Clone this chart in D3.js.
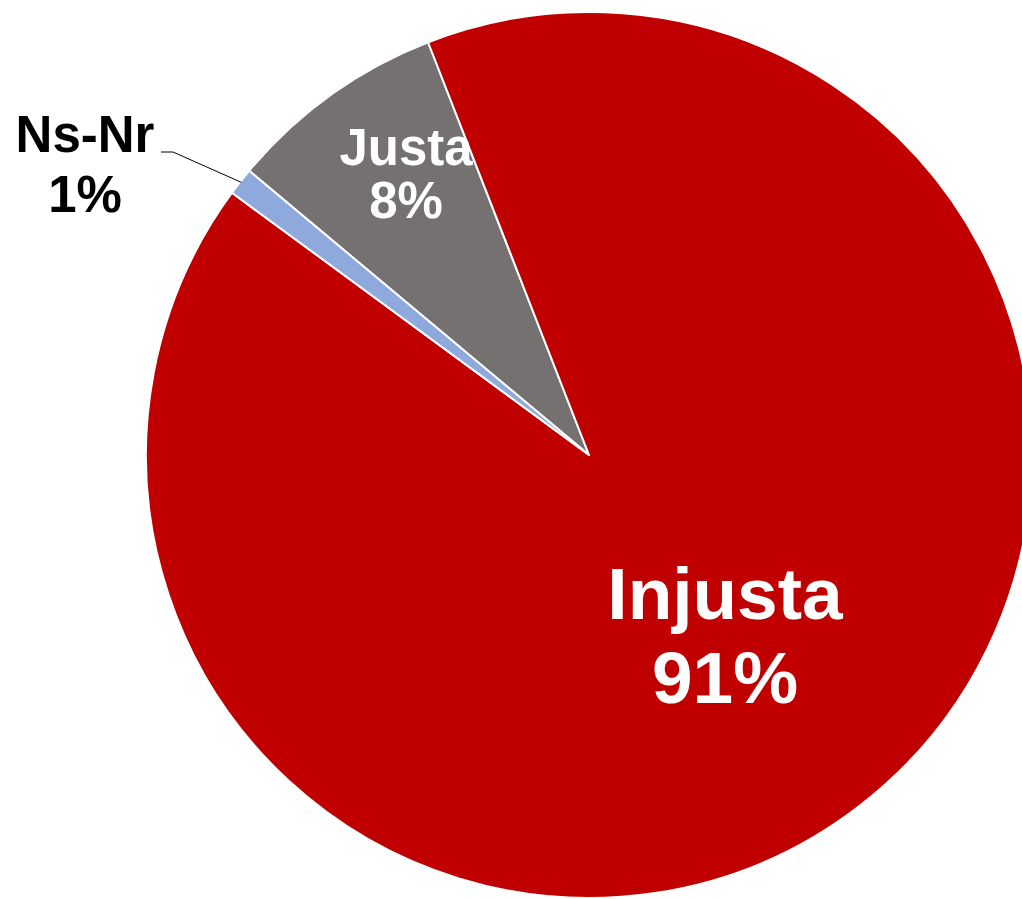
<!DOCTYPE html>
<html>
<head>
<meta charset="utf-8">
<script src="https://cdn.jsdelivr.net/npm/d3@7"></script>
<style>
  html, body { margin: 0; padding: 0; background: #fff; overflow: hidden; }
  svg { display: block; }
</style>
</head>
<body>
<div id="painting"></div>
<script>
// pie data, clockwise order starting from the Justa slice
var categories = ["Justa", "Injusta", "Ns-Nr"];
var values = [8, 91, 1];
var pctLabels = ["8%", "91%", "1%"];
var colours = ["#767171", "#C00000", "#8EA9DB"];

var w = 1022, h = 899;
var cx = 589, cy = 455, r = 443;
var start = -50.1 * Math.PI / 180;

var svg = d3.select("#painting")
  .append("svg")
  .attr("width", w)
  .attr("height", h);

var g = svg.append("g")
  .attr("transform", "translate(" + cx + "," + cy + ")");

var pie = d3.pie()
  .sort(null)
  .startAngle(start)
  .endAngle(start + 2 * Math.PI)
  .value(function(d) { return d; });

var arc = d3.arc().innerRadius(0).outerRadius(r);

var arcs = pie(values);

g.selectAll("path")
  .data(arcs)
  .enter()
  .append("path")
  .attr("d", arc)
  .attr("fill", function(d, i) { return colours[i]; })
  .attr("stroke", "#fff")
  .attr("stroke-width", 2)
  .attr("stroke-linejoin", "round");

// label positions (relative to centre), sizes and colours
var labelPos = [
  {x: 406 - cx, y: 165 - cy, dy: 53, size: 51, fill: "#fff"},
  {x: 725 - cx, y: 619 - cy, dy: 84, size: 73, fill: "#fff"},
  {x: 85 - cx, y: 152 - cy, dy: 60, size: 51, fill: "#000"}
];

var labels = g.selectAll("text.lab")
  .data(arcs)
  .enter()
  .append("text")
  .attr("class", "lab")
  .attr("text-anchor", "middle")
  .attr("font-family", "'Liberation Sans', Arial, sans-serif")
  .attr("font-weight", "bold")
  .attr("font-size", function(d, i) { return labelPos[i].size; })
  .attr("fill", function(d, i) { return labelPos[i].fill; });

labels.append("tspan")
  .attr("x", function(d, i) { return labelPos[i].x; })
  .attr("y", function(d, i) { return labelPos[i].y; })
  .text(function(d, i) { return categories[i]; });

labels.append("tspan")
  .attr("x", function(d, i) { return labelPos[i].x; })
  .attr("y", function(d, i) { return labelPos[i].y + labelPos[i].dy; })
  .text(function(d, i) { return pctLabels[i]; });

// leader line for the small Ns-Nr slice
var small = arcs[2];
var mid = (small.startAngle + small.endAngle) / 2;
var px = Math.sin(mid) * (r - 1), py = -Math.cos(mid) * (r - 1);
g.append("polyline")
  .attr("points", [[161 - cx, 152 - cy], [173 - cx, 152 - cy], [px, py]].map(function(p) { return p.join(","); }).join(" "))
  .attr("fill", "none")
  .attr("stroke", "#000")
  .attr("stroke-width", 1);
</script>
</body>
</html>
